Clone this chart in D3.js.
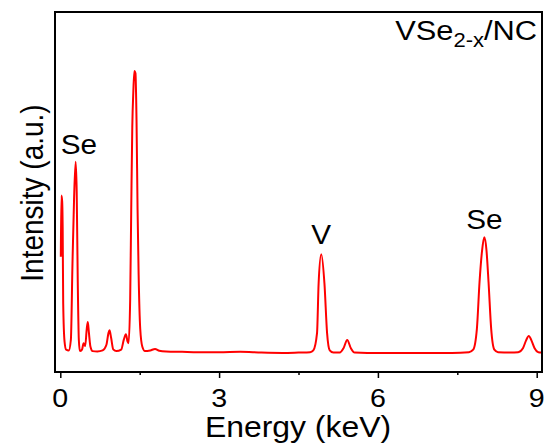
<!DOCTYPE html>
<html>
<head>
<meta charset="utf-8">
<script src="https://cdn.jsdelivr.net/npm/d3@7"></script>
<style>
  body { margin: 0; background: #ffffff; }
  text { font-family: "Liberation Sans", Arial, sans-serif; fill: #000000; }
</style>
</head>
<body>
<script>

//Spectrum Energy Values (keV).
var energy = [0.01, 0.02, 0.035, 0.045, 0.055, 0.08, 0.11, 0.16, 0.2, 0.23, 0.26, 0.29, 0.31, 0.33, 0.35, 0.37,
  0.41, 0.44, 0.47, 0.5, 0.52, 0.54, 0.57, 0.61, 0.7, 0.8, 0.87, 0.91, 0.93, 0.96, 1.0, 1.06, 1.15, 1.2, 1.24,
  1.27, 1.29, 1.32, 1.34, 1.36, 1.38, 1.4, 1.42, 1.44, 1.46, 1.48, 1.51, 1.55, 1.6, 1.7, 1.79, 1.87, 2.0, 2.3,
  2.6, 3.0, 3.4, 3.8, 4.2, 4.5, 4.72, 4.78, 4.85, 4.88, 4.93, 4.99, 5.04, 5.09, 5.16, 5.28, 5.35, 5.42, 5.49,
  5.56, 5.8, 6.2, 6.6, 7.0, 7.4, 7.72, 7.8, 7.87, 7.92, 7.97, 8.01, 8.05, 8.09, 8.14, 8.2, 8.27, 8.5, 8.65,
  8.74, 8.8, 8.85, 8.9, 8.96, 9.03, 9.1];

//Spectrum Intensity Values (a.u.).
var counts = [320, 490, 475, 400, 190, 85, 62, 60, 90, 300, 480, 584, 500, 250, 90, 58,
  62, 80, 72, 120, 139, 110, 70, 58, 57, 60, 75, 108, 116, 95, 63, 58, 62, 90, 105,
  85, 80, 200, 450, 680, 780, 836, 830, 700, 450, 270, 120, 70, 58, 60, 64, 59, 57, 56,
  55, 55, 56, 54, 53, 54, 55, 60, 108, 246, 327, 246, 108, 60, 54, 54, 66, 89, 66,
  54, 53, 53, 53, 53, 53, 55, 62, 120, 250, 340, 374, 340, 250, 120, 62, 55, 54, 55,
  66, 88, 100, 88, 66, 55, 54];

//Tick Values.
var majorTicks = [0, 3, 6, 9];
var minorTicks = [1.5, 4.5, 7.5];

//Peak Labels.
var peakNames = ["Se", "V", "Se"];
var peakEnergy = [0.29, 4.93, 8.01];
var peakHeight = [584, 327, 374];

//The text in the figure is a little wider than the font, so it is stretched sideways.
var stretch = 1.1;

//Adds a text element at x,y that is stretched sideways.
function addText(svg, x, y, size, anchor, content) {
  return svg.append("text")
    .attr("transform", "translate(" + x + "," + y + ") scale(" + stretch + ",1)")
    .attr("text-anchor", anchor)
    .attr("font-size", size)
    .text(content);
};

//Main Function.
function mainFunction() {

  //Saving Width and Height Variables.
  var width = 544;
  var height = 447;

  //Saving Plot Frame Edges.
  var left = 55;
  var right = 542;
  var top = 12;
  var bottom = 372;

  var svg = d3.select("body").append("svg").attr("width", width).attr("height", height);

  svg.append("rect").attr("width", width).attr("height", height).attr("fill", "#ffffff");

  //Scales.
  var xScale = d3.scaleLinear().domain([-0.1, 9.1]).range([left, right]);
  var yScale = d3.scaleLinear().domain([0, 1000]).range([bottom, top]);

  //Clip so the line stays inside the frame.
  svg.append("clipPath").attr("id", "plotClip")
     .append("rect")
     .attr("x", left).attr("y", top)
     .attr("width", right - left).attr("height", bottom - top);

  //Compiling Data Points.
  var data = energy.map(function(e, i) { return {e: e, c: counts[i]}; });

  var line = d3.line()
    .x(function(d) { return xScale(d.e); })
    .y(function(d) { return yScale(d.c); })
    .curve(d3.curveMonotoneX);

  svg.append("path")
     .datum(data)
     .attr("clip-path", "url(#plotClip)")
     .attr("fill", "none")
     .attr("stroke", "#ff0000")
     .attr("stroke-width", 2)
     .attr("stroke-linejoin", "round")
     .attr("d", line);

  //Major X Axis (labels are drawn separately so they can be stretched).
  var xAxis = d3.axisBottom(xScale).tickValues(majorTicks).tickSize(6).tickSizeOuter(0).tickFormat("");
  var gx = svg.append("g").attr("transform", "translate(0," + bottom + ")").call(xAxis);
  gx.select(".domain").remove();
  gx.selectAll("line").attr("stroke", "#000").attr("stroke-width", 1.5);

  majorTicks.forEach(function(t) {
    addText(svg, xScale(t), 407, 26, "middle", d3.format("d")(t));
  });

  //Minor X Axis.
  var xMinor = d3.axisBottom(xScale).tickValues(minorTicks).tickSize(3).tickSizeOuter(0).tickFormat("");
  var gm = svg.append("g").attr("transform", "translate(0," + bottom + ")").call(xMinor);
  gm.select(".domain").remove();
  gm.selectAll("line").attr("stroke", "#000").attr("stroke-width", 1.5);

  //Frame.
  svg.append("rect")
     .attr("x", left).attr("y", top)
     .attr("width", right - left).attr("height", bottom - top)
     .attr("fill", "none")
     .attr("stroke", "#000")
     .attr("stroke-width", 2);

  //Axis Titles.
  addText(svg, 298, 437, 29, "middle", "Energy (keV)");

  svg.append("text")
     .attr("transform", "translate(43,193) scale(" + stretch + ",1) rotate(-90)")
     .attr("text-anchor", "middle")
     .attr("font-size", 28)
     .text("Intensity (a.u.)");

  //Peak Labels.
  var offsets = [[-15, -8, "start"], [0, -10, "middle"], [0, -8, "middle"]];
  peakNames.forEach(function(name, i) {
    addText(svg, xScale(peakEnergy[i]) + offsets[i][0], yScale(peakHeight[i]) + offsets[i][1],
      27, offsets[i][2], name);
  });

  //Sample Label.
  var sample = addText(svg, right - 5, 40, 28, "end", "");
  sample.append("tspan").text("VSe");
  sample.append("tspan").attr("font-size", 20).attr("dy", 7).text("2-x");
  sample.append("tspan").attr("dy", -7).text("/NC");

};//End of Main Function.

mainFunction();

</script>
</body>
</html>
